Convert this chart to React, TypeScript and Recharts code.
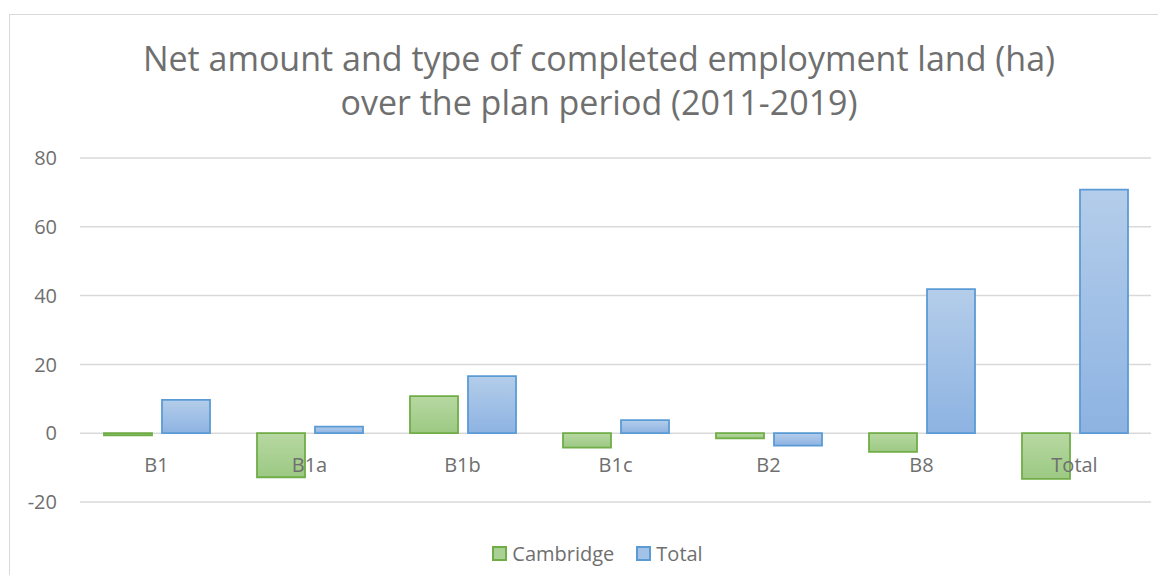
import React from "react";
import {
  BarChart,
  Bar,
  XAxis,
  YAxis,
  CartesianGrid,
  Legend,
} from "recharts";

const categories = ["B1", "B1a", "B1b", "B1c", "B2", "B8", "Total"];
const cambridge = [-0.6, -12.8, 10.8, -4.2, -1.5, -5.4, -13.3];
const total = [9.7, 1.9, 16.6, 3.8, -3.6, 41.9, 70.8];
const yTicks = [-20, 0, 20, 40, 60, 80];

const data = categories.map((name, i) => ({
  name,
  Cambridge: cambridge[i],
  Total: total[i],
}));

const FONT = "'Open Sans', sans-serif";
const TEXT = "#6f6f6f";

// category labels sit just under the zero line, like Excel does
const CategoryTick = (props: any) => {
  const { x, y, payload } = props;
  return (
    <text
      x={x}
      y={y - 30}
      textAnchor="middle"
      fontFamily={FONT}
      fontSize={20}
      fill={TEXT}
    >
      {payload.value}
    </text>
  );
};

const LegendContent = () => (
  <div
    style={{
      display: "flex",
      justifyContent: "center",
      alignItems: "center",
      fontFamily: FONT,
      fontSize: 20,
      color: TEXT,
      height: 30,
      paddingLeft: 36,
    }}
  >
    {[
      { label: "Cambridge", fill: "#aad195", stroke: "#70ad47" },
      { label: "Total", fill: "#a3c2e6", stroke: "#5b9bd5" },
    ].map((item, i) => (
      <span
        key={item.label}
        style={{ display: "flex", alignItems: "center", marginLeft: i ? 22 : 0 }}
      >
        <span
          style={{
            width: 11,
            height: 11,
            background: item.fill,
            border: `2px solid ${item.stroke}`,
            marginRight: 5,
          }}
        />
        {item.label}
      </span>
    ))}
  </div>
);

export default function App() {
  return (
    <div style={{ position: "relative", width: 1150, height: 567, overflow: "hidden" }}>
      <div
        style={{
          position: "absolute",
          left: 1,
          top: 6,
          width: 1180,
          height: 580,
          border: "1px solid #d9d9d9",
          boxSizing: "border-box",
        }}
      />
      <div
        style={{
          position: "absolute",
          left: 0,
          top: 28,
          width: 1182,
          textAlign: "center",
          fontFamily: FONT,
          fontSize: 34,
          lineHeight: "44px",
          color: TEXT,
        }}
      >
        Net amount and type of completed employment land (ha)
        <br />
        over the plan period (2011-2019)
      </div>
      <div style={{ position: "absolute", left: 0, top: 0 }}>
        <BarChart
          width={1150}
          height={567}
          data={data}
          margin={{ top: 150, right: 7, left: 0, bottom: 42 }}
          barSize={48}
          barGap={10}
        >
          <defs>
            <linearGradient id="gGreen" x1="0" y1="0" x2="0" y2="1">
              <stop offset="0%" stopColor="#b7d8a2" />
              <stop offset="100%" stopColor="#9cc983" />
            </linearGradient>
            <linearGradient id="gBlue" x1="0" y1="0" x2="0" y2="1">
              <stop offset="0%" stopColor="#b4cdea" />
              <stop offset="100%" stopColor="#8db3e2" />
            </linearGradient>
          </defs>
          <CartesianGrid vertical={false} stroke="#d9d9d9" strokeWidth={1.5} />
          <XAxis
            dataKey="name"
            height={1}
            axisLine={false}
            tickLine={false}
            tickSize={0}
            tickMargin={0}
            interval={0}
            tick={<CategoryTick />}
          />
          <YAxis
            width={72}
            domain={[-20, 80]}
            ticks={yTicks}
            axisLine={false}
            tickLine={false}
            tickSize={0}
            tickMargin={23}
            tick={{ fontFamily: FONT, fontSize: 20, fill: TEXT }}
          />
          <Legend
            verticalAlign="bottom"
            height={30}
            wrapperStyle={{ bottom: 7 }}
            content={<LegendContent />}
          />
          <Bar
            dataKey="Cambridge"
            fill="url(#gGreen)"
            stroke="#70ad47"
            strokeWidth={1.8}
            isAnimationActive={false}
          />
          <Bar
            dataKey="Total"
            fill="url(#gBlue)"
            stroke="#5b9bd5"
            strokeWidth={1.8}
            isAnimationActive={false}
          />
        </BarChart>
      </div>
    </div>
  );
}
